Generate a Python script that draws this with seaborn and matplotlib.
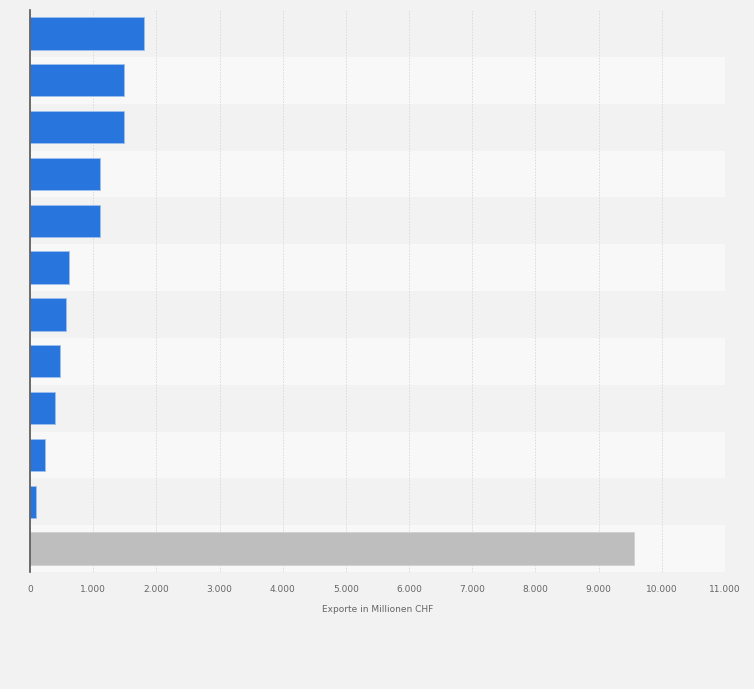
import numpy as np
import pandas as pd
import matplotlib
matplotlib.use("Agg")
import matplotlib.pyplot as plt
import seaborn as sns
from matplotlib.ticker import FuncFormatter

# Werte (Millionen CHF)
kategorien = ["K1", "K2", "K3", "K4", "K5", "K6", "K7", "K8", "K9", "K10", "K11", "Gesamt"]
exporte = [1810, 1490, 1490, 1113, 1113, 622, 570, 480, 396, 237, 95, 9557]
farben = ["#2876dd"] * 11 + ["#bebebe"]

df = pd.DataFrame({"kategorie": kategorien, "exporte": exporte})

sns.set_style("white")
plt.rcParams['font.family'] = ['DejaVu Sans']

fig = plt.figure(figsize=(7.54, 6.89), dpi=100)
fig.patch.set_facecolor("#f2f2f2")
ax = fig.add_axes([30 / 754, 1 - 572 / 689, 695 / 754, 562 / 689])
ax.set_facecolor("#f7f7f7")

# abwechselnde Hintergrundstreifen
for i in range(len(kategorien)):
    ax.axhspan(i - 0.5, i + 0.5, color="#f2f2f2" if i % 2 == 0 else "#f8f8f8", zorder=0, lw=0)

sns.barplot(data=df, y="kategorie", x="exporte", hue="kategorie", palette=farben,
            legend=False, orient="h", width=0.69, saturation=1, ax=ax, zorder=3,
            edgecolor="#9fc0ec", linewidth=0.6)
# grauer Balken ohne blauen Rand
ax.patches[-1].set_edgecolor("#d0d0d0")

ax.set_xlim(0, 11000)
ax.set_ylim(len(kategorien) - 0.5, -0.5)
ax.set_xticks(np.arange(0, 11001, 1000))
ax.xaxis.set_major_formatter(FuncFormatter(lambda v, p: f"{int(v):,}".replace(",", ".")))
ax.tick_params(axis="x", length=0, labelsize=6.5, labelcolor="#666666", pad=9)
ax.set_yticks([])
ax.set_ylabel("")
ax.set_xlabel("Exporte in Millionen CHF", fontsize=6.5, color="#666666", labelpad=8)
ax.grid(axis="x", color="#dadada", linestyle=(0, (1.5, 1.5)), linewidth=0.7, zorder=1)
ax.set_axisbelow(True)

for s in ["top", "right", "bottom"]:
    ax.spines[s].set_visible(False)
ax.spines["left"].set_color("#555555")
ax.spines["left"].set_linewidth(1.2)
ax.spines["left"].set_zorder(5)

fig.savefig("out.png", dpi=100, facecolor=fig.get_facecolor())
